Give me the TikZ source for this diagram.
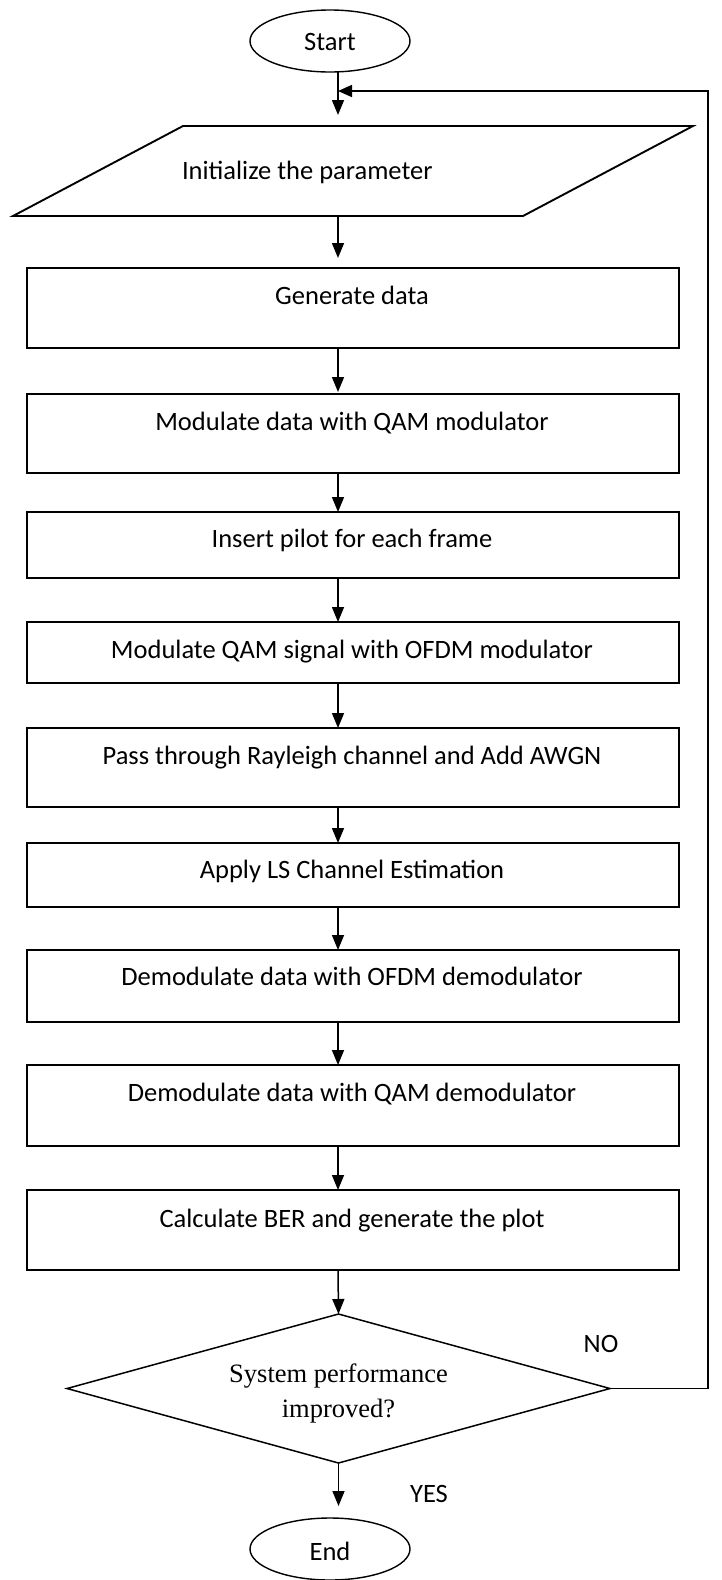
\documentclass[tikz,border=0pt]{standalone}
\usepackage{fontspec}
\setmainfont{Carlito}
\newfontfamily\qfont{Liberation Serif}
\usetikzlibrary{arrows.meta,shapes.geometric}
\begin{document}
\begin{tikzpicture}[x=1pt,y=-1pt,
  every node/.style={inner sep=0pt, outer sep=0pt},
  procbox/.style={draw, line width=1.9pt, minimum width=652pt},
  txt/.style={anchor=base, font=\fontsize{26.5}{32}\selectfont},
  qtxt/.style={anchor=base, font=\qfont\fontsize{26.5}{32}\selectfont},
  term/.style={draw, ellipse, line width=1.4pt, minimum width=160pt, minimum height=62pt},
  arr/.style={line width=1.5pt, -{Triangle[length=15pt,width=12pt]}},
]
\useasboundingbox (0,0) rectangle (721,1580);

% vertical axis of the flow and the corner of the feedback loop
\coordinate (spine) at (338,0);
\coordinate (loopc) at (708,91);
\coordinate (loopin) at (338,91);

% terminals
\node[term] (start) at (330,41) {};
\node[txt] (start-t) at (330,50.5) {Start};
\node[term] (end) at (330,1549) {};
\node[txt] (end-t) at (330,1560) {End};

% input parallelogram
\draw[line width=1.9pt, line join=miter] (183,126) -- (693,126) -- (523,216) -- (13,216) -- cycle;
\node[minimum width=340pt, minimum height=90pt] (param) at (353,171) {};
\node[txt, anchor=base west] (param-t) at (182,179) {Initialize the parameter};

% process steps (text set near the top of each box)
\node[procbox, minimum height=80pt] (gen) at (353,308) {};
\node[txt] (gen-t) at (352,304.5) {Generate data};
\node[procbox, minimum height=79pt] (mod) at (353,433.5) {};
\node[txt] (mod-t) at (352,430.5) {Modulate data with QAM modulator};
\node[procbox, minimum height=66pt] (ins) at (353,545) {};
\node[txt] (ins-t) at (352,547.5) {Insert pilot for each frame};
\node[procbox, minimum height=61pt] (ofdm) at (353,652.5) {};
\node[txt] (ofdm-t) at (352,658) {Modulate QAM signal with OFDM modulator};
\node[procbox, minimum height=79pt] (ray) at (353,767.5) {};
\node[txt] (ray-t) at (352,764.5) {Pass through Rayleigh channel and Add AWGN};
\node[procbox, minimum height=64pt] (ls) at (353,875) {};
\node[txt] (ls-t) at (352,878.5) {Apply LS Channel Estimation};
\node[procbox, minimum height=72pt] (odm) at (353,986) {};
\node[txt] (odm-t) at (352,985.5) {Demodulate data with OFDM demodulator};
\node[procbox, minimum height=81pt] (qdm) at (353,1105.5) {};
\node[txt] (qdm-t) at (352,1101.5) {Demodulate data with QAM demodulator};
\node[procbox, minimum height=80pt] (ber) at (353,1230) {};
\node[txt] (ber-t) at (352,1227) {Calculate BER and generate the plot};

% decision
\node[draw, diamond, line width=1.5pt, minimum width=543pt, minimum height=149pt] (dec) at (338.5,1388.5) {};
\node[qtxt] (dec-t1) at (338.5,1382) {System performance};
\node[qtxt] (dec-t2) at (338.5,1417) {improved?};
\node[txt] (no) at (601,1352) {NO};
\node[txt] (yes) at (429,1502) {YES};

% connectors
\draw[arr, shorten >=11pt] (start.south -| spine) -- (param.north -| spine);
\draw[arr, shorten >=10pt] (param.south -| spine) -- (gen.north -| spine);
\draw[arr, shorten >=2pt] (gen.south -| spine) -- (mod.north -| spine);
\draw[arr] (mod.south -| spine) -- (ins.north -| spine);
\draw[arr] (ins.south -| spine) -- (ofdm.north -| spine);
\draw[arr] (ofdm.south -| spine) -- (ray.north -| spine);
\draw[arr] (ray.south -| spine) -- (ls.north -| spine);
\draw[arr] (ls.south -| spine) -- (odm.north -| spine);
\draw[arr] (odm.south -| spine) -- (qdm.north -| spine);
\draw[arr] (qdm.south -| spine) -- (ber.north -| spine);
\draw[arr] (ber.south -| spine) -- (dec.north);
\draw[arr, shorten >=12pt] (dec.south) -- (end.north -| dec.south);

% feedback loop
\draw[line width=1.5pt, -{Triangle[length=14pt,width=12pt]}] (dec.east) -| (loopc) -- (loopin);
\end{tikzpicture}
\end{document}
